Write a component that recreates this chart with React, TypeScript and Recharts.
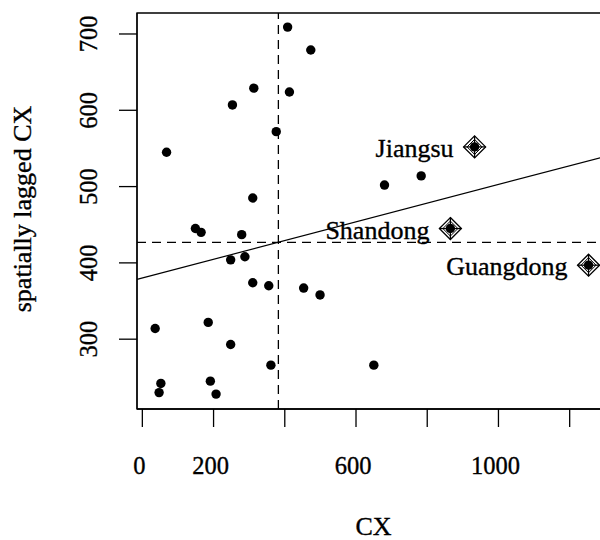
import React from 'react';
import { ScatterChart, Scatter, XAxis, YAxis, ReferenceLine, ReferenceArea, Label } from 'recharts';

// Regular provinces: CX value and spatially lagged CX
const cxValues = [408, 473, 313, 413, 253, 376, 68, 680, 783, 310, 149, 165, 279, 248, 288, 310, 355, 453, 499, 36, 185, 248, 361, 650, 52, 47, 191, 207];
const laggedValues = [709, 679, 629, 624, 607, 572, 545, 502, 514, 485, 445, 440, 437, 404, 408, 374, 370, 367, 358, 314, 322, 293, 266, 266, 242, 230, 245, 228];

// Influential observations
const inflNames = ['Jiangsu', 'Shandong', 'Guangdong'];
const inflCx = [933, 865, 1253];
const inflLagged = [552, 445, 397];

const meanCx = 382;
const meanLagged = 427;
const regIntercept = 380.2;
const regSlope = 0.1226;

const xTicks = [0, 200, 400, 600, 800, 1000, 1200];
const xTickLabels = ['0', '200', '', '600', '', '1000', ''];
const yTicks = [300, 400, 500, 600, 700];
const xDomain: [number, number] = [-15, 1302];
const yDomain: [number, number] = [208.5, 727.5];

const FONT = '"Liberation Serif", "Times New Roman", serif';
const TXT = { fontFamily: FONT, fill: '#000', stroke: '#000', strokeWidth: 0.35 };

const points = cxValues.map((x, i) => ({ x, y: laggedValues[i] }));
const influential = inflCx.map((x, i) => ({ x, y: inflLagged[i], name: inflNames[i] }));

const Dot = (props: any) => {
  const { cx, cy } = props;
  return <circle cx={cx} cy={cy} r={4.7} fill="#000" />;
};

const InflShape = (props: any) => {
  const { cx, cy, payload } = props;
  const r = 11;
  const r2 = 7.5;
  return (
    <g>
      <path d={`M${cx},${cy - r}L${cx + r},${cy}L${cx},${cy + r}L${cx - r},${cy}Z`} fill="none" stroke="#000" strokeWidth={1.3} />
      <path d={`M${cx},${cy - r2}L${cx + r2},${cy}L${cx},${cy + r2}L${cx - r2},${cy}Z`} fill="none" stroke="#000" strokeWidth={1} />
      <line x1={cx - r} y1={cy} x2={cx + r} y2={cy} stroke="#000" strokeWidth={1.3} />
      <line x1={cx} y1={cy - r} x2={cx} y2={cy + r} stroke="#000" strokeWidth={1.3} />
      <circle cx={cx} cy={cy} r={4.7} fill="#000" />
      <text x={cx - 21} y={cy + 10} textAnchor="end" fontSize={26} {...TXT}>
        {payload.name}
      </text>
    </g>
  );
};

const XTick = (props: any) => {
  const { x, y, payload } = props;
  const idx = xTicks.indexOf(payload.value);
  const label = idx >= 0 ? xTickLabels[idx] : '';
  if (!label) return null;
  return (
    <text x={x - 3} y={y + 45} textAnchor="middle" fontSize={24.5} {...TXT}>
      {label}
    </text>
  );
};

const YTick = (props: any) => {
  const { x, y, payload } = props;
  const bx = x - 20;
  return (
    <text x={bx} y={y} textAnchor="middle" transform={`rotate(-90, ${bx}, ${y})`} fontSize={24.5} {...TXT}>
      {payload.value}
    </text>
  );
};

export default function App() {
  return (
    <div style={{ position: 'absolute', left: 0, top: 0, width: 600, height: 540, overflow: 'hidden', background: '#fff' }}>
      <ScatterChart width={640} height={540} margin={{ top: 13, right: 34, bottom: 0, left: 0 }}>
        <XAxis
          type="number"
          dataKey="x"
          domain={xDomain}
          ticks={xTicks}
          allowDataOverflow
          height={131}
          tickSize={18}
          tickMargin={2}
          stroke="#000"
          strokeWidth={1.3}
          tick={<XTick />}
          tickLine={{ stroke: '#000', strokeWidth: 1.3 }}
        >
          <Label
            content={(p: any) => {
              const vb = p.viewBox;
              return (
                <text x={vb.x + vb.width / 2 + 2} y={vb.y + 126} textAnchor="middle" fontSize={26} {...TXT}>
                  CX
                </text>
              );
            }}
          />
        </XAxis>
        <YAxis
          type="number"
          dataKey="y"
          domain={yDomain}
          ticks={yTicks}
          allowDataOverflow
          width={137}
          tickSize={18}
          tickMargin={2}
          stroke="#000"
          strokeWidth={1.3}
          tick={<YTick />}
          tickLine={{ stroke: '#000', strokeWidth: 1.3 }}
        >
          <Label
            content={(p: any) => {
              const vb = p.viewBox;
              const cy = vb.y + vb.height / 2 - 2;
              return (
                <text x={31} y={cy} textAnchor="middle" transform={`rotate(-90, 31, ${cy})`} fontSize={26} {...TXT}>
                  spatially lagged CX
                </text>
              );
            }}
          />
        </YAxis>
        <ReferenceArea x1={xDomain[0]} x2={xDomain[1]} y1={yDomain[0]} y2={yDomain[1]} fill="none" stroke="#000" strokeWidth={1.3} fillOpacity={0} ifOverflow="visible" />
        <ReferenceLine x={meanCx} stroke="#000" strokeWidth={1.3} strokeDasharray="9 6" />
        <ReferenceLine y={meanLagged} stroke="#000" strokeWidth={1.3} strokeDasharray="9 6" />
        <ReferenceLine
          segment={[
            { x: xDomain[0], y: regIntercept + regSlope * xDomain[0] },
            { x: xDomain[1], y: regIntercept + regSlope * xDomain[1] },
          ]}
          stroke="#000"
          strokeWidth={1.2}
          ifOverflow="visible"
        />
        <Scatter data={points} shape={<Dot />} isAnimationActive={false} />
        <Scatter data={influential} shape={<InflShape />} isAnimationActive={false} />
      </ScatterChart>
    </div>
  );
}
